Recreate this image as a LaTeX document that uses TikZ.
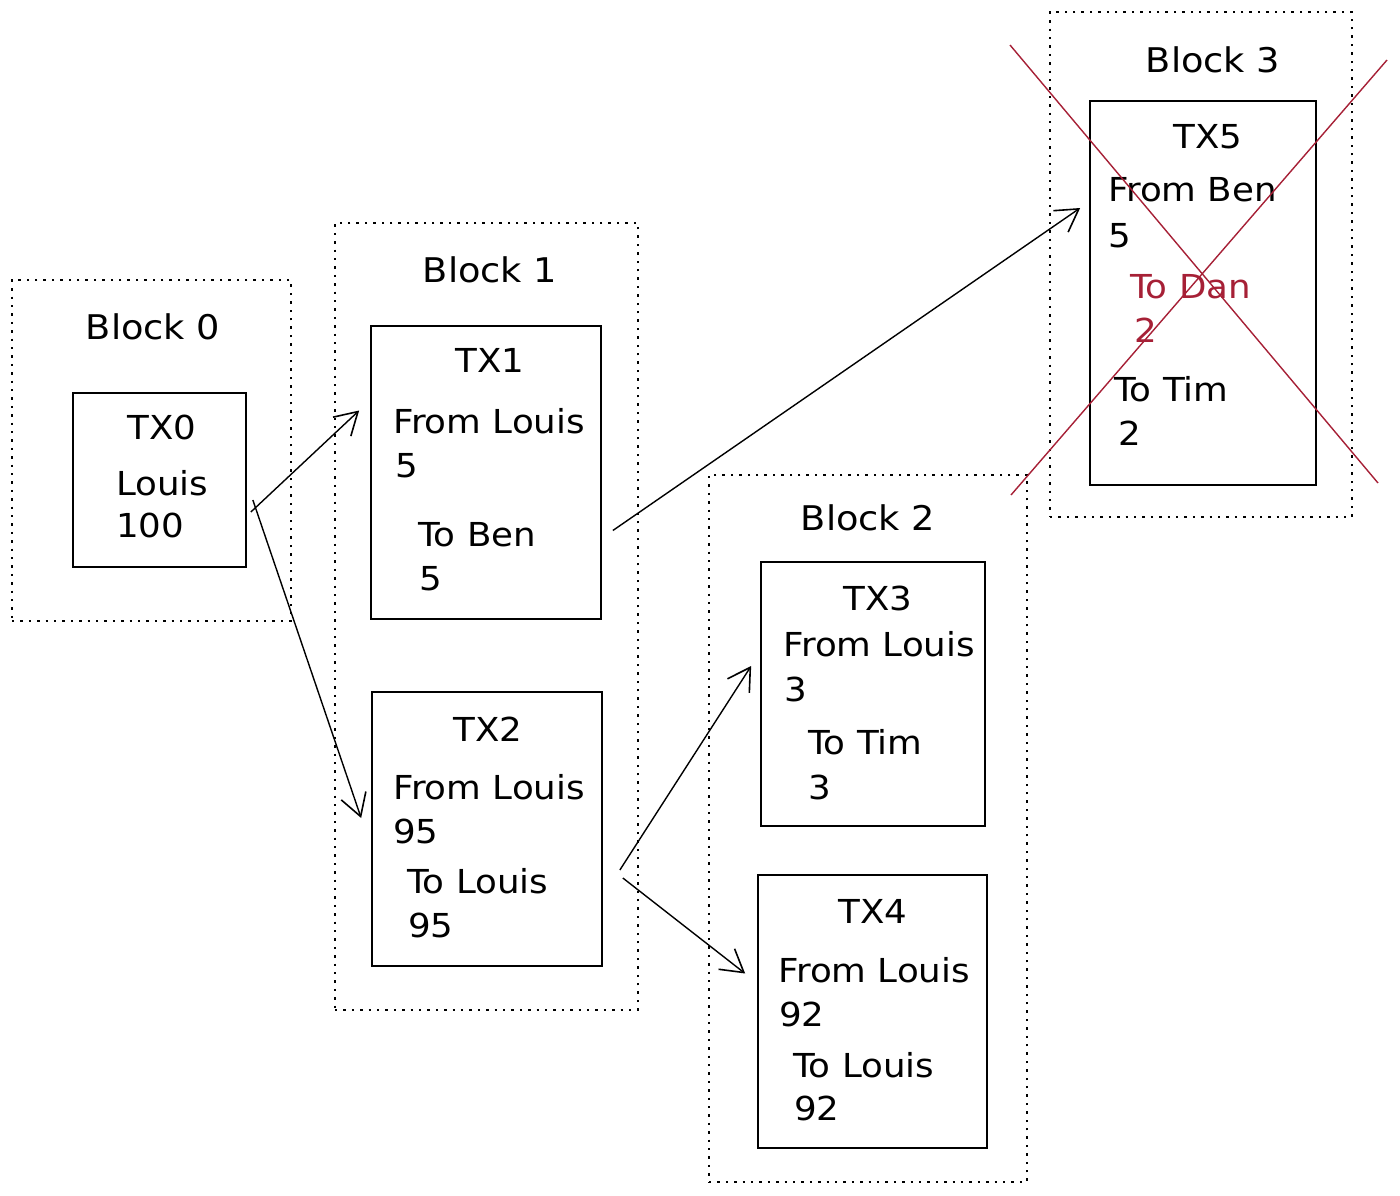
\documentclass[tikz,border=0pt]{standalone}
\usepackage{fontspec}
\setmainfont{DejaVu Sans}[FakeStretch=1.08]
\usetikzlibrary{arrows.meta,calc}
\definecolor{strike}{RGB}{166,32,54}
\begin{document}
\begin{tikzpicture}[x=1pt,y=-1pt,
  blockbox/.style={draw,line width=2pt,dash pattern=on 2.4pt off 6pt,inner sep=0pt},
  txbox/.style={draw,line width=1.7pt,inner sep=0pt},
  lbl/.style={font=\fontsize{34}{40}\selectfont,inner sep=0pt},
  txt/.style={font=\fontsize{33}{38}\selectfont,inner sep=0pt,anchor=base west},
  ttl/.style={font=\fontsize{33}{38}\selectfont,inner sep=0pt},
  conn/.style={line width=1.4pt,-{Straight Barb[length=22pt,width=26pt,line width=1.6pt]}},
  cross/.style={strike,line width=1.4pt}]
\useasboundingbox (0,0) rectangle (1400,1195);

% block containers
\node[blockbox,minimum width=279,minimum height=341] (b0) at (151.5,450.5) {};
\node[blockbox,minimum width=303,minimum height=787] (b1) at (486.5,616.5) {};
\node[blockbox,minimum width=318,minimum height=707] (b2) at (868,828.5) {};
\node[blockbox,minimum width=302,minimum height=505] (b3) at (1201,264.5) {};

\node[lbl] (b0l) at (153,327) {Block 0};
\node[lbl] (b1l) at (490,270) {Block 1};
\node[lbl] (b2l) at (868,518) {Block 2};
\node[lbl] (b3l) at (1213,60) {Block 3};

% transactions
\node[txbox,minimum width=173,minimum height=174] (tx0) at (159.5,480) {};
\node[txbox,minimum width=230,minimum height=293] (tx1) at (486,472.5) {};
\node[txbox,minimum width=230,minimum height=274] (tx2) at (487,829) {};
\node[txbox,minimum width=224,minimum height=264] (tx3) at (873,694) {};
\node[txbox,minimum width=229,minimum height=273] (tx4) at (872.5,1011.5) {};
\node[txbox,minimum width=226,minimum height=384] (tx5) at (1203,293) {};

% TX0
\node[ttl] (t0a) at (162,427) {TX0};
\node[txt] (t0b) at (116,495) {Louis};
\node[txt] (t0c) at (116,537) {100};
% TX1
\node[ttl] (t1a) at (490,360) {TX1};
\node[txt] (t1b) at (393,433) {From Louis};
\node[txt] (t1c) at (395,477) {5};
\node[txt] (t1d) at (418,546) {To Ben};
\node[txt] (t1e) at (419,590) {5};
% TX2
\node[ttl] (t2a) at (488,729) {TX2};
\node[txt] (t2b) at (393,799) {From Louis};
\node[txt] (t2c) at (393,843) {95};
\node[txt] (t2d) at (407,893) {To Louis};
\node[txt] (t2e) at (408,937) {95};
% TX3
\node[ttl] (t3a) at (878,598) {TX3};
\node[txt] (t3b) at (783,656) {From Louis};
\node[txt] (t3c) at (784,701) {3};
\node[txt] (t3d) at (808,754) {To Tim};
\node[txt] (t3e) at (808,799) {3};
% TX4
\node[ttl] (t4a) at (873,911) {TX4};
\node[txt] (t4b) at (778,982) {From Louis};
\node[txt] (t4c) at (779,1026) {92};
\node[txt] (t4d) at (793,1077) {To Louis};
\node[txt] (t4e) at (794,1120) {92};
% TX5
\node[ttl] (t5a) at (1208,137) {TX5};
\node[txt] (t5b) at (1108,201) {From Ben};
\node[txt] (t5c) at (1108,247) {5};
\node[txt,text=strike] (t5d) at (1130,298) {To Dan};
\node[txt,text=strike] (t5e) at (1134,342) {2};
\node[txt] (t5f) at (1114,401) {To Tim};
\node[txt] (t5g) at (1118,445) {2};

% transfers
\draw[conn] ($(tx0.east)+(4,32)$) -- ($(tx1.west)+(-11,-62)$);
\draw[conn] ($(tx0.east)+(6,20)$) -- ($(tx2.west)+(-10,-11)$);
\draw[conn] ($(tx1.east)+(11,58)$) -- ($(tx5.west)+(-9,-85)$);
\draw[conn] ($(tx2.east)+(17,41)$) -- ($(tx3.west)+(-9,-28)$);
\draw[conn] ($(tx2.east)+(20,49)$) -- ($(tx4.west)+(-12,-38)$);

% rejected block
\coordinate (xa1) at (1010,45);
\coordinate (xa2) at (1378,483);
\coordinate (xb1) at (1387,60);
\coordinate (xb2) at (1011,495);
\draw[cross] (xa1) -- (xa2);
\draw[cross] (xb1) -- (xb2);
\end{tikzpicture}
\end{document}
